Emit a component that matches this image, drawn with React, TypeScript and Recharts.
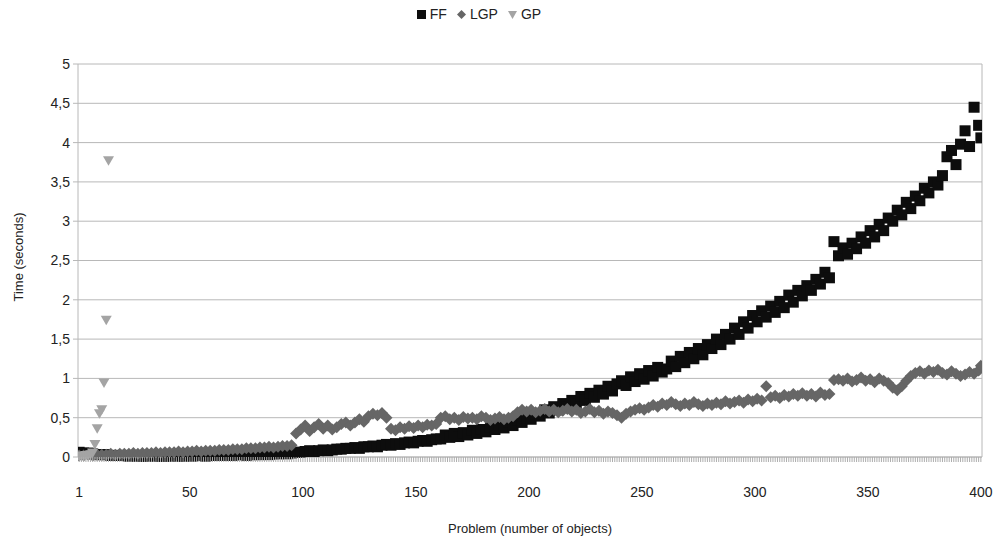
import {
  CartesianGrid,
  Label,
  Legend,
  ReferenceLine,
  Scatter,
  ScatterChart,
  XAxis,
  YAxis,
} from "recharts";

// problem size (number of objects) sampled for FF and LGP
const problems = [
  1, 3, 5, 7, 9, 11, 13, 15, 17, 19,
  21, 23, 25, 27, 29, 31, 33, 35, 37, 39,
  41, 43, 45, 47, 49, 51, 53, 55, 57, 59,
  61, 63, 65, 67, 69, 71, 73, 75, 77, 79,
  81, 83, 85, 87, 89, 91, 93, 95, 97, 99,
  101, 103, 105, 107, 109, 111, 113, 115, 117, 119,
  121, 123, 125, 127, 129, 131, 133, 135, 137, 139,
  141, 143, 145, 147, 149, 151, 153, 155, 157, 159,
  161, 163, 165, 167, 169, 171, 173, 175, 177, 179,
  181, 183, 185, 187, 189, 191, 193, 195, 197, 199,
  201, 203, 205, 207, 209, 211, 213, 215, 217, 219,
  221, 223, 225, 227, 229, 231, 233, 235, 237, 239,
  241, 243, 245, 247, 249, 251, 253, 255, 257, 259,
  261, 263, 265, 267, 269, 271, 273, 275, 277, 279,
  281, 283, 285, 287, 289, 291, 293, 295, 297, 299,
  301, 303, 305, 307, 309, 311, 313, 315, 317, 319,
  321, 323, 325, 327, 329, 331, 333, 335, 337, 339,
  341, 343, 345, 347, 349, 351, 353, 355, 357, 359,
  361, 363, 365, 367, 369, 371, 373, 375, 377, 379,
  381, 383, 385, 387, 389, 391, 393, 395, 397, 399,
  400,
];

const ffTimes = [
  0.06, 0.05, 0.05, 0.04, 0.03, 0.03, 0.03, 0.02, 0.02, 0.02,
  0.02, 0.01, 0.02, 0.01, 0.01, 0.01, 0.02, 0.01, 0.01, 0.01,
  0.01, 0.02, 0.01, 0.01, 0.02, 0.01, 0.02, 0.02, 0.01, 0.02,
  0.02, 0.02, 0.03, 0.02, 0.02, 0.03, 0.03, 0.02, 0.03, 0.03,
  0.03, 0.04, 0.03, 0.04, 0.04, 0.05, 0.04, 0.05, 0.06, 0.06,
  0.07, 0.08, 0.07, 0.08, 0.09, 0.08, 0.09, 0.1, 0.1, 0.11,
  0.11, 0.12, 0.11, 0.13, 0.13, 0.14, 0.13, 0.15, 0.16, 0.15,
  0.17, 0.16, 0.18, 0.19, 0.18, 0.2, 0.21, 0.2, 0.22, 0.23,
  0.23, 0.28, 0.25, 0.3, 0.26, 0.31, 0.28, 0.34, 0.3, 0.35,
  0.32, 0.38, 0.35, 0.41, 0.37, 0.44, 0.4, 0.47, 0.44, 0.5,
  0.48, 0.55, 0.52, 0.6, 0.56, 0.64, 0.6, 0.68, 0.64, 0.72,
  0.68, 0.77, 0.72, 0.81, 0.76, 0.85, 0.8, 0.9, 0.84, 0.93,
  0.97, 0.91, 1.02, 0.96, 1.06, 0.99, 1.1, 1.03, 1.14, 1.08,
  1.12, 1.22, 1.15, 1.28, 1.2, 1.33, 1.25, 1.38, 1.3, 1.43,
  1.38, 1.5, 1.43, 1.56, 1.5, 1.64, 1.56, 1.72, 1.64, 1.8,
  1.72, 1.86, 1.78, 1.92, 1.84, 1.98, 1.9, 2.06, 1.97, 2.12,
  2.05, 2.18, 2.12, 2.26, 2.2, 2.35, 2.28, 2.74, 2.56, 2.66,
  2.58, 2.72, 2.65, 2.8, 2.72, 2.88, 2.8, 2.96, 2.88, 3.04,
  3.0, 3.14, 3.08, 3.24, 3.16, 3.32, 3.26, 3.42, 3.36, 3.5,
  3.46, 3.58, 3.82, 3.9, 3.72, 3.98, 4.15, 3.95, 4.45, 4.22,
  4.06,
];

const lgpTimes = [
  0.02, 0.02, 0.03, 0.02, 0.03, 0.03, 0.03, 0.04, 0.03, 0.04,
  0.04, 0.04, 0.05, 0.04, 0.05, 0.05, 0.05, 0.06, 0.05, 0.06,
  0.06, 0.06, 0.07, 0.06, 0.07, 0.07, 0.08, 0.07, 0.08, 0.08,
  0.08, 0.09, 0.09, 0.09, 0.1, 0.1, 0.1, 0.11, 0.11, 0.11,
  0.12, 0.12, 0.13, 0.12, 0.13, 0.14, 0.14, 0.15, 0.3, 0.35,
  0.4, 0.33, 0.38, 0.42, 0.36, 0.4, 0.35, 0.38, 0.42, 0.44,
  0.4, 0.44, 0.48, 0.45, 0.52, 0.55, 0.53, 0.56, 0.5, 0.36,
  0.34, 0.38, 0.36, 0.39, 0.37, 0.4, 0.38, 0.41, 0.4, 0.42,
  0.5, 0.52, 0.48, 0.5, 0.47, 0.51, 0.49, 0.5, 0.48, 0.52,
  0.5, 0.47, 0.49, 0.51, 0.48, 0.5, 0.52, 0.57, 0.6, 0.58,
  0.6, 0.57, 0.59, 0.61, 0.58, 0.6, 0.57, 0.59, 0.61, 0.58,
  0.6, 0.56, 0.58, 0.61, 0.57, 0.59, 0.55, 0.58, 0.56, 0.53,
  0.5, 0.55, 0.58, 0.6, 0.62, 0.6, 0.63, 0.66, 0.64, 0.68,
  0.66, 0.7, 0.67, 0.65, 0.68, 0.66, 0.7, 0.67, 0.65, 0.68,
  0.66, 0.69, 0.67, 0.71, 0.68, 0.7, 0.72, 0.69, 0.73, 0.71,
  0.74, 0.72, 0.9, 0.76, 0.78, 0.75, 0.79, 0.77, 0.8, 0.78,
  0.81, 0.78, 0.8, 0.77, 0.82, 0.79, 0.8, 0.98, 0.99, 0.97,
  1.0, 0.96, 0.98, 1.01, 0.97, 0.99, 0.95, 1.0, 0.97, 0.94,
  0.88, 0.85, 0.9, 0.97, 1.03, 1.07, 1.09, 1.06, 1.1, 1.08,
  1.11, 1.07, 1.05, 1.09, 1.06, 1.03, 1.05, 1.08, 1.06, 1.1,
  1.16,
];

// GP only solved the first few problems
const gpProblems = [1, 2, 3, 4, 5, 6, 7, 8, 9, 10, 11, 12, 13, 14];
const gpTimes = [0.01, 0.01, 0.01, 0.02, 0.02, 0.03, 0.05, 0.16, 0.36, 0.55, 0.6, 0.94, 1.74, 3.77];

const xTickLabels = [1, 50, 100, 150, 200, 250, 300, 350, 400];
const yTicks = [0, 0.5, 1, 1.5, 2, 2.5, 3, 3.5, 4, 4.5, 5];

const ffData = problems.map((n, i) => ({ n, t: ffTimes[i] }));
const lgpData = problems.map((n, i) => ({ n, t: lgpTimes[i] }));
const gpData = gpProblems.map((n, i) => ({ n, t: gpTimes[i] }));

// one small tick per problem, like the category axis of the original
const minorTicks = Array.from({ length: 400 }, (_, i) => i + 1);

const FF_COLOR = "#0d0d0d";
const LGP_COLOR = "#666666";
const GP_COLOR = "#a4a4a4";
const GRID = "#b8b8b8";
const TEXT = "#222222";

const SquareDot = (props: any) => {
  const { cx, cy } = props;
  return <rect x={cx - 5.5} y={cy - 5.5} width={11} height={11} fill={FF_COLOR} />;
};

const DiamondDot = (props: any) => {
  const { cx, cy } = props;
  return (
    <polygon
      points={`${cx},${cy - 6} ${cx + 6},${cy} ${cx},${cy + 6} ${cx - 6},${cy}`}
      fill={LGP_COLOR}
    />
  );
};

const DownTriangle = (props: any) => {
  const { cx, cy } = props;
  return (
    <polygon
      points={`${cx - 5.5},${cy - 4.5} ${cx + 5.5},${cy - 4.5} ${cx},${cy + 5}`}
      fill={GP_COLOR}
    />
  );
};

// draws the minor tick line for every problem, and a label on the major ones
const XTick = (props: any) => {
  const { x, y, payload } = props;
  const major = xTickLabels.includes(payload.value);
  return (
    <g>
      <rect x={x - 0.5} y={y} width={1} height={5} fill="#adadad" />
      {major && (
        <text x={x} y={y + 40} textAnchor="middle" fontSize={14} fill={TEXT}>
          {payload.value}
        </text>
      )}
    </g>
  );
};

const LegendContent = () => (
  <div
    style={{
      display: "flex",
      justifyContent: "center",
      alignItems: "center",
      gap: 10,
      fontSize: 14,
      color: TEXT,
    }}
  >
    <span style={{ display: "flex", alignItems: "center", gap: 4 }}>
      <svg width={9} height={9}>
        <rect x={0} y={0} width={9} height={9} fill={FF_COLOR} />
      </svg>
      FF
    </span>
    <span style={{ display: "flex", alignItems: "center", gap: 4 }}>
      <svg width={9} height={9}>
        <polygon points="4.5,0 9,4.5 4.5,9 0,4.5" fill={LGP_COLOR} />
      </svg>
      LGP
    </span>
    <span style={{ display: "flex", alignItems: "center", gap: 4 }}>
      <svg width={9} height={9}>
        <polygon points="0,1 9,1 4.5,9" fill={GP_COLOR} />
      </svg>
      GP
    </span>
  </div>
);

export default function App() {
  return (
    <div
      style={{
        position: "absolute",
        left: 0,
        top: 0,
        fontFamily: "'Liberation Sans', Arial, sans-serif",
      }}
    >
      <ScatterChart
        width={995}
        height={538}
        margin={{ top: 64, right: 13, bottom: 0, left: 0 }}
      >
        <CartesianGrid vertical={false} stroke={GRID} />
        <XAxis
          type="number"
          dataKey="n"
          domain={[0.5, 400.5]}
          allowDataOverflow
          ticks={minorTicks}
          interval={0}
          minTickGap={0}
          tick={<XTick />}
          tickSize={0}
          tickMargin={0}
          tickLine={false}
          axisLine={{ stroke: GRID }}
          height={81}
        >
          <Label
            value="Problem (number of objects)"
            position="insideBottom"
            offset={5}
            fontSize={13}
            fill={TEXT}
          />
        </XAxis>
        <YAxis
          type="number"
          dataKey="t"
          domain={[0, 5]}
          ticks={yTicks}
          interval={0}
          width={78}
          tickSize={5}
          tickMargin={3}
          tick={{ fontSize: 14, fill: TEXT }}
          tickLine={{ stroke: GRID }}
          axisLine={{ stroke: GRID }}
          tickFormatter={(v: number) => String(v).replace(".", ",")}
        >
          <Label
            content={() => (
              <text
                x={18}
                y={257}
                transform="rotate(-90 18 257)"
                textAnchor="middle"
                dominantBaseline="central"
                fontSize={13}
                fill={TEXT}
              >
                Time (seconds)
              </text>
            )}
          />
        </YAxis>
        <ReferenceLine x={400.5} stroke={GRID} ifOverflow="visible" />
        <Legend
          layout="horizontal"
          verticalAlign="middle"
          align="center"
          content={<LegendContent />}
          wrapperStyle={{ top: 6, left: 0, width: 958 }}
        />
        <Scatter name="FF" data={ffData} shape={<SquareDot />} isAnimationActive={false} />
        <Scatter name="LGP" data={lgpData} shape={<DiamondDot />} isAnimationActive={false} />
        <Scatter name="GP" data={gpData} shape={<DownTriangle />} isAnimationActive={false} />
      </ScatterChart>
    </div>
  );
}
